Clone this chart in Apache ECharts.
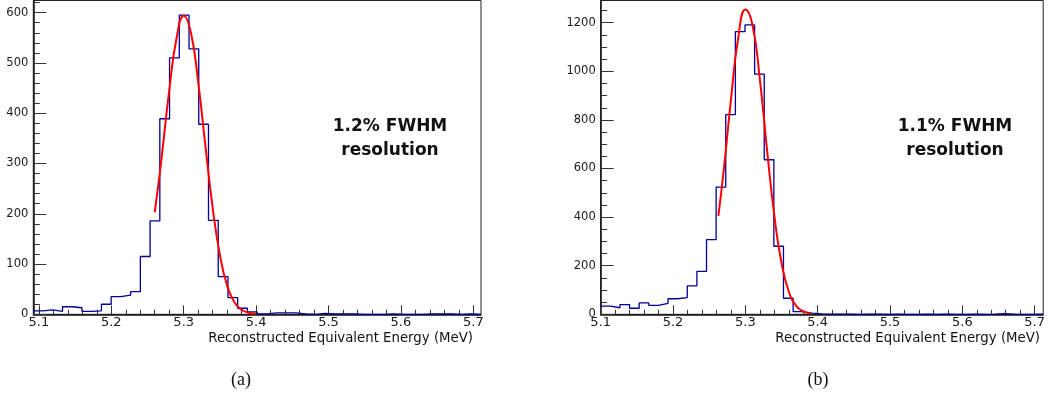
<!DOCTYPE html>
<html><head><meta charset="utf-8">
<script src="https://cdn.jsdelivr.net/npm/echarts@6/dist/echarts.min.js"></script>
<style>html,body{margin:0;padding:0;background:#fff;}#c{width:1048px;height:405px;}</style>
</head><body><div id="c"></div>
<script>
// ---------- data ----------
const leftRange = [5.0923, 5.7106];   // histogram range, 46 bins
const rightRange = [5.1, 5.7118];
const leftCounts = [7, 9, 6, 15, 13, 6, 7, 20, 35, 38, 45, 115, 186, 389, 510, 595, 528, 378, 187, 75, 33, 12, 5, 1, 3, 3, 3, 1, 0, 2, 1, 1, 1, 0, 0, 0, 1, 0, 0, 0, 1, 1, 1, 0, 1, 0];
const rightCounts = [34, 27, 40, 25, 47, 37, 45, 64, 69, 117, 177, 307, 523, 822, 1163, 1191, 988, 636, 280, 66, 11, 5, 2, 1, 1, 1, 0, 1, 1, 0, 1, 0, 0, 1, 0, 1, 0, 0, 1, 0, 1, 3, 1, 0, 0, 1];
const leftFitX = [5.260, 5.265, 5.270, 5.280, 5.290, 5.300, 5.310, 5.320, 5.330, 5.340, 5.350, 5.360, 5.370, 5.380, 5.390, 5.400];
const leftFitY = [203, 258, 318, 445, 548, 594, 560, 462, 335, 212, 118, 57, 24, 9, 3, 1];
const rightFitX = [5.2627, 5.270, 5.280, 5.290, 5.300, 5.310, 5.320, 5.330, 5.340, 5.350, 5.360, 5.370, 5.380, 5.390];
const rightFitY = [405, 590, 880, 1135, 1254, 1188, 968, 677, 408, 211, 94, 36, 12, 3];
const xTickLabels = [5.1, 5.2, 5.3, 5.4, 5.5, 5.6, 5.7];
const leftYTicks = [0, 100, 200, 300, 400, 500, 600];
const rightYTicks = [0, 200, 400, 600, 800, 1000, 1200];
const leftYMax = 624.2;
const rightYMax = 1291.4;
const leftNote = ['1.2% FWHM', 'resolution'];
const rightNote = ['1.1% FWHM', 'resolution'];
const xTitle = 'Reconstructed Equivalent Energy (MeV)';
const captions = ['(a)', '(b)'];

// ---------- helpers ----------
const FONT = '"DejaVu Sans", Arial, sans-serif';
function seq(a, b, step) { const r = []; for (let v = a; v <= b + step * 1e-6; v += step) r.push(Math.round(v * 1000) / 1000); return r; }
const xMinor = seq(5.1, 5.7, 0.02);
const leftYMinor = seq(0, 620, 20);
const rightYMinor = seq(0, 1250, 50);

function steps(range, counts) {
  const w = (range[1] - range[0]) / counts.length;
  const pts = [];
  counts.forEach((c, i) => { pts.push([range[0] + i * w, c]); pts.push([range[0] + (i + 1) * w, c]); });
  return pts;
}
function xAxes(gi, range) {
  return [{
    type: 'value', gridIndex: gi, min: range[0], max: range[1], position: 'bottom',
    axisLine: { show: true, lineStyle: { color: '#111', width: 1.5 } },
    axisTick: { show: true, inside: true, length: 9, customValues: xTickLabels, lineStyle: { color: '#333', width: 1 } },
    axisLabel: { show: true, customValues: xTickLabels, formatter: v => (+v).toFixed(1), fontFamily: FONT, fontSize: 13, color: '#1a1a1a', margin: 2 },
    splitLine: { show: false }
  }, {
    type: 'value', gridIndex: gi, min: range[0], max: range[1], position: 'bottom',
    axisLine: { show: false },
    axisTick: { show: true, inside: true, length: 4.5, customValues: xMinor, lineStyle: { color: '#333', width: 1 } },
    axisLabel: { show: false }, splitLine: { show: false }
  }];
}
function yAxes(gi, max, ticks, minor) {
  return [{
    type: 'value', gridIndex: gi, min: 0, max: max, position: 'left',
    axisLine: { show: true, lineStyle: { color: '#111', width: 1.5 } },
    axisTick: { show: true, inside: true, length: 13, customValues: ticks, lineStyle: { color: '#333', width: 1 } },
    axisLabel: { show: true, customValues: ticks, formatter: v => String(Math.round(v)), fontFamily: FONT, fontSize: 11.5, color: '#1a1a1a', margin: 5 },
    splitLine: { show: false }
  }, {
    type: 'value', gridIndex: gi, min: 0, max: max, position: 'left',
    axisLine: { show: false },
    axisTick: { show: true, inside: true, length: 6.5, customValues: minor, lineStyle: { color: '#333', width: 1 } },
    axisLabel: { show: false }, splitLine: { show: false }
  }];
}
function txt(x, y, text, font, align) {
  return { type: 'text', x: x, y: y, style: { text: text, font: font, fill: '#111', align: align || 'center', verticalAlign: 'middle', textAlign: align || 'center', textVerticalAlign: 'middle' } };
}

const histStyle = { color: '#00009a', width: 1.3 };
const fitStyle = { color: '#ff0000', width: 2 };

const option = {
  animation: false,
  backgroundColor: '#ffffff',
  textStyle: { fontFamily: FONT },
  grid: [
    { left: 33.3, top: 0.5, width: 447.7, height: 313.8, show: true, borderColor: '#222', borderWidth: 1, backgroundColor: 'transparent' },
    { left: 600.7, top: 0.5, width: 447.8, height: 313.8, show: true, borderColor: '#222', borderWidth: 1, backgroundColor: 'transparent' }
  ],
  xAxis: [...xAxes(0, leftRange), ...xAxes(1, rightRange)],
  yAxis: [...yAxes(0, leftYMax, leftYTicks, leftYMinor), ...yAxes(1, rightYMax, rightYTicks, rightYMinor)],
  series: [
    { type: 'line', xAxisIndex: 0, yAxisIndex: 0, data: steps(leftRange, leftCounts), symbol: 'none', lineStyle: histStyle, z: 2 },
    { type: 'line', xAxisIndex: 0, yAxisIndex: 0, data: leftFitX.map((x, i) => [x, leftFitY[i]]), smooth: true, symbol: 'none', lineStyle: fitStyle, z: 3 },
    { type: 'line', xAxisIndex: 2, yAxisIndex: 2, data: steps(rightRange, rightCounts), symbol: 'none', lineStyle: histStyle, z: 2 },
    { type: 'line', xAxisIndex: 2, yAxisIndex: 2, data: rightFitX.map((x, i) => [x, rightFitY[i]]), smooth: true, symbol: 'none', lineStyle: fitStyle, z: 3 }
  ],
  graphic: [
    txt(390, 127, leftNote[0], 'bold 17px ' + FONT),
    txt(390, 151, leftNote[1], 'bold 17px ' + FONT),
    txt(955, 127, rightNote[0], 'bold 17px ' + FONT),
    txt(955, 151, rightNote[1], 'bold 17px ' + FONT),
    txt(473, 339, xTitle, '13.3px ' + FONT, 'right'),
    txt(1040, 339, xTitle, '13.3px ' + FONT, 'right'),
    txt(241, 380, captions[0], '18px "Liberation Serif", "Times New Roman", serif'),
    txt(818, 380, captions[1], '18px "Liberation Serif", "Times New Roman", serif')
  ]
};
const chart = echarts.init(document.getElementById('c'), null, { renderer: 'canvas' });
chart.setOption(option);
</script>
</body></html>
